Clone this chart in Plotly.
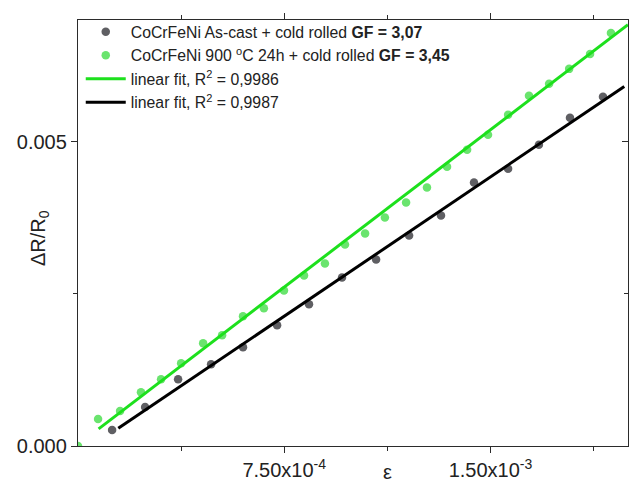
import plotly.graph_objects as go

# ---- data ----
# CoCrFeNi 900 °C 24h + cold rolled
strain_900 = [0.0, 0.073e-3, 0.153e-3, 0.229e-3, 0.302e-3, 0.375e-3, 0.455e-3, 0.524e-3,
              0.600e-3, 0.676e-3, 0.749e-3, 0.822e-3, 0.898e-3, 0.971e-3, 1.044e-3,
              1.116e-3, 1.193e-3, 1.269e-3, 1.342e-3, 1.415e-3, 1.491e-3, 1.564e-3,
              1.640e-3, 1.713e-3, 1.786e-3, 1.862e-3, 1.938e-3]
dr_900 = [0.0, 0.443e-3, 0.574e-3, 0.885e-3, 1.098e-3, 1.361e-3, 1.689e-3, 1.820e-3,
          2.131e-3, 2.262e-3, 2.557e-3, 2.803e-3, 3.000e-3, 3.311e-3, 3.492e-3,
          3.754e-3, 4.000e-3, 4.246e-3, 4.590e-3, 4.869e-3, 5.115e-3, 5.443e-3,
          5.754e-3, 5.951e-3, 6.197e-3, 6.443e-3, 6.787e-3]

# CoCrFeNi As-cast + cold rolled
strain_cast = [0.124e-3, 0.244e-3, 0.364e-3, 0.484e-3, 0.600e-3, 0.724e-3, 0.840e-3,
               0.960e-3, 1.084e-3, 1.204e-3, 1.320e-3, 1.440e-3, 1.564e-3, 1.676e-3,
               1.789e-3, 1.909e-3]
dr_cast = [0.262e-3, 0.639e-3, 1.098e-3, 1.344e-3, 1.623e-3, 1.984e-3, 2.328e-3,
           2.770e-3, 3.066e-3, 3.459e-3, 3.787e-3, 4.328e-3, 4.557e-3, 4.951e-3,
           5.393e-3, 5.738e-3]

# linear fits: slope, intercept, x-extent
fit_900_slope, fit_900_icpt = 3.45, 0.023e-3
fit_900_x = [0.075e-3, 2.0e-3]
fit_cast_slope, fit_cast_icpt = 3.053, -0.157e-3
fit_cast_x = [0.1465e-3, 1.9865e-3]

x_range = [0, 2.0e-3]
y_range = [0, 0.007]
x_tickvals = [7.5e-4, 1.5e-3]
x_ticktext = ["7.50x10<sup>-4</sup>", "1.50x10<sup>-3</sup>"]
x_minor = [3.75e-4, 1.125e-3, 1.875e-3]
y_tickvals = [0.0, 0.005]
y_ticktext = ["0.000", "0.005"]
y_minor = [0.0025]

legend_names = [
    "CoCrFeNi As-cast + cold rolled <b>GF = 3,07</b>",
    "CoCrFeNi 900 <sup>o</sup>C 24h + cold rolled <b>GF = 3,45</b>",
    "linear fit, R<sup>2</sup> = 0,9986",
    "linear fit, R<sup>2</sup> = 0,9987",
]

FONT = "Liberation Sans, Arial, sans-serif"
AX = "#2b2b2b"
TXT = "#222222"

fig = go.Figure()
fig.add_trace(go.Scatter(x=strain_cast, y=dr_cast, mode="markers", name=legend_names[0],
                         marker=dict(size=8.5, color="#5f5f63")))
fig.add_trace(go.Scatter(x=strain_900, y=dr_900, mode="markers", name=legend_names[1],
                         marker=dict(size=8.5, color="#6ae46e")))
# fit lines are placed on the mirrored (top / right) axes, which share identical ranges,
# so that the frame axes are rendered with their ticks
fig.add_trace(go.Scatter(x=fit_900_x, y=[fit_900_icpt + fit_900_slope * v for v in fit_900_x],
                         mode="lines", name=legend_names[2], xaxis="x2", yaxis="y",
                         line=dict(color="#1de01d", width=3)))
fig.add_trace(go.Scatter(x=fit_cast_x, y=[fit_cast_icpt + fit_cast_slope * v for v in fit_cast_x],
                         mode="lines", name=legend_names[3], xaxis="x", yaxis="y2",
                         line=dict(color="#000000", width=3)))

tick_common = dict(showgrid=False, zeroline=False, automargin=False,
                   showline=True, linecolor=AX, linewidth=1.3,
                   ticklen=6, tickwidth=1.3, tickcolor=AX, tickmode="array")

fig.update_layout(
    template="none",
    width=633, height=482,
    margin=dict(l=78, r=5, t=20, b=36, pad=0),
    paper_bgcolor="white", plot_bgcolor="white",
    font=dict(family=FONT, color=TXT, size=20),
    showlegend=True,
    legend=dict(x=0.005, y=1.012, xanchor="left", yanchor="top",
                bgcolor="rgba(0,0,0,0)", borderwidth=0,
                font=dict(size=15.8, family=FONT, color=TXT),
                itemwidth=40, tracegroupgap=0),
    xaxis=dict(range=x_range, mirror=False, ticks="outside",
               tickvals=x_tickvals, ticktext=x_ticktext,
               tickfont=dict(size=20, family=FONT, color=TXT),
               minor=dict(tickmode="array", tickvals=x_minor, ticks="outside",
                          ticklen=4, tickwidth=1.3, tickcolor=AX, showgrid=False),
               **tick_common),
    xaxis2=dict(overlaying="x", side="top", anchor="y", range=x_range,
                showticklabels=False, ticks="outside", tickvals=x_tickvals,
                minor=dict(tickmode="array", tickvals=x_minor, ticks="outside",
                           ticklen=4, tickwidth=1.3, tickcolor=AX, showgrid=False),
                **tick_common),
    yaxis=dict(range=y_range, mirror=False, ticks="outside",
               tickvals=y_tickvals, ticktext=y_ticktext,
               tickfont=dict(size=20, family=FONT, color=TXT),
               minor=dict(tickmode="array", tickvals=y_minor, ticks="outside",
                          ticklen=4, tickwidth=1.3, tickcolor=AX, showgrid=False),
               **tick_common),
    yaxis2=dict(overlaying="y", side="right", anchor="x", range=y_range,
                showticklabels=False, ticks="inside", tickvals=y_tickvals,
                minor=dict(tickmode="array", tickvals=y_minor, ticks="inside",
                           ticklen=4, tickwidth=1.3, tickcolor=AX, showgrid=False),
                **tick_common),
    annotations=[
        dict(text="ΔR/R<sub>0</sub>", xref="paper", yref="paper", x=-0.071, y=0.488,
             textangle=-90, showarrow=False, font=dict(size=20, family=FONT, color=TXT),
             xanchor="center", yanchor="middle"),
        dict(text="ε", xref="x", yref="paper", x=1.125e-3, y=-0.06,
             showarrow=False, font=dict(size=20, family=FONT, color=TXT),
             xanchor="center", yanchor="middle"),
    ],
)

fig.write_html("out.html", config={"displayModeBar": False},
               post_script="document.body.style.margin='0';")
